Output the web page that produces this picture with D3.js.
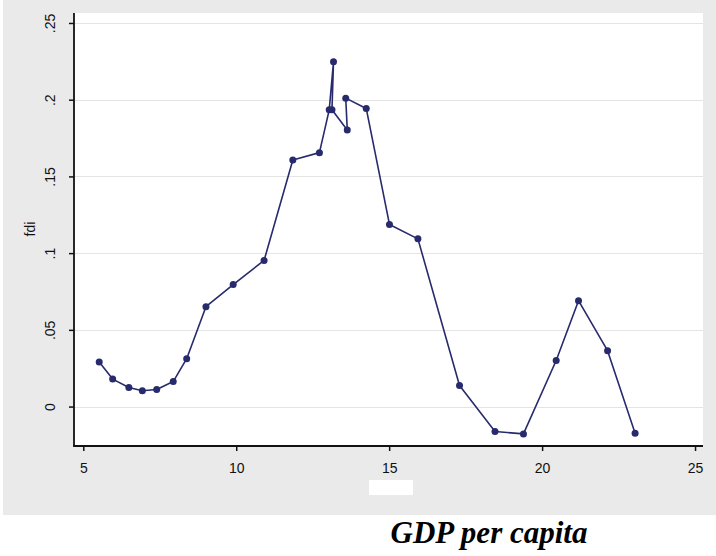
<!DOCTYPE html>
<html>
<head>
<meta charset="utf-8">
<script src="https://cdn.jsdelivr.net/npm/d3@7"></script>
<style>
  html, body { margin: 0; padding: 0; background: #ffffff; }
  svg { display: block; }
</style>
</head>
<body>
<svg id="chart" width="716" height="556"></svg>
<script>
// GDP per capita (x) against fdi (y), in the order the series is connected
const gdp = [5.52, 5.96, 6.49, 6.93, 7.40, 7.94, 8.38, 9.01, 9.90, 10.91,
             11.85, 12.72, 13.04, 13.18, 13.13, 13.63, 13.58, 14.25, 15.01, 15.94,
             17.30, 18.46, 19.39, 20.46, 21.19, 22.14, 23.04];
const fdi = [0.0290, 0.0179, 0.0124, 0.0103, 0.0111, 0.0163, 0.0312, 0.0651, 0.0795, 0.0952,
             0.1607, 0.1655, 0.1934, 0.2247, 0.1934, 0.1803, 0.2010, 0.1943, 0.1187, 0.1093,
             0.0137, -0.0163, -0.0178, 0.0300, 0.0690, 0.0364, -0.0174];

const xTicks = [5, 10, 15, 20, 25];
const yTicks = [0, 0.05, 0.1, 0.15, 0.2, 0.25];
const yTickLabels = ["0", ".05", ".1", ".15", ".2", ".25"];
const yTitle = "fdi";
const xTitle = "GDP per capita";

const svg = d3.select("#chart");
const plot = { left: 74, right: 703, top: 13, bottom: 446 };
const navy = "#272a6c";

const x = d3.scaleLinear().domain([4.696, 25.26]).range([plot.left, plot.right]);
const y = d3.scaleLinear().domain([-0.0257, 0.2565]).range([plot.bottom, plot.top]);

// graph region background
svg.append("rect")
  .attr("x", 3).attr("y", 0).attr("width", 713).attr("height", 515)
  .attr("fill", "#eaeaea");

// plot region
svg.append("rect")
  .attr("x", plot.left).attr("y", plot.top)
  .attr("width", plot.right - plot.left).attr("height", plot.bottom - plot.top)
  .attr("fill", "#ffffff");

// horizontal grid lines
svg.append("g")
  .selectAll("line")
  .data(yTicks)
  .join("line")
  .attr("x1", plot.left).attr("x2", plot.right)
  .attr("y1", d => Math.round(y(d)) + 0.5).attr("y2", d => Math.round(y(d)) + 0.5)
  .attr("stroke", "#e4e4e4").attr("stroke-width", 1.2);

// y axis
const yAxis = d3.axisLeft(y)
  .tickValues(yTicks)
  .tickSize(5)
  .tickFormat((d, i) => yTickLabels[i]);
const gy = svg.append("g")
  .attr("transform", `translate(${plot.left},0)`)
  .call(yAxis);
gy.select(".domain").remove();
gy.selectAll(".tick line").attr("stroke", "#111").attr("stroke-width", 1.5);
gy.selectAll(".tick text")
  .attr("x", null).attr("dy", null)
  .attr("transform", "translate(-24,0) rotate(-90)")
  .attr("text-anchor", "middle")
  .attr("dominant-baseline", "central")
  .attr("font-family", "Liberation Sans, Arial, sans-serif")
  .attr("font-size", 14)
  .attr("fill", "#111");

// x axis
const xAxis = d3.axisBottom(x)
  .tickValues(xTicks)
  .tickSize(5)
  .tickFormat(d3.format("d"));
const gx = svg.append("g")
  .attr("transform", `translate(0,${plot.bottom})`)
  .call(xAxis);
gx.select(".domain").remove();
gx.selectAll(".tick line").attr("stroke", "#111").attr("stroke-width", 1.5);
gx.selectAll(".tick text")
  .attr("y", 17).attr("dy", "0.71em")
  .attr("font-family", "Liberation Sans, Arial, sans-serif")
  .attr("font-size", 14)
  .attr("fill", "#111");

// axis lines
svg.append("line")
  .attr("x1", plot.left).attr("x2", plot.left)
  .attr("y1", plot.top).attr("y2", plot.bottom + 0.75)
  .attr("stroke", "#111").attr("stroke-width", 1.8);
svg.append("line")
  .attr("x1", plot.left - 0.75).attr("x2", plot.right)
  .attr("y1", plot.bottom).attr("y2", plot.bottom)
  .attr("stroke", "#111").attr("stroke-width", 1.8);

// y axis title
svg.append("text")
  .attr("transform", "translate(30,229) rotate(-90)")
  .attr("text-anchor", "middle")
  .attr("dominant-baseline", "central")
  .attr("font-family", "Liberation Sans, Arial, sans-serif")
  .attr("font-size", 14)
  .attr("fill", "#111")
  .text(yTitle);

// blank patch under the x axis labels
svg.append("rect")
  .attr("x", 369).attr("y", 480).attr("width", 44).attr("height", 15)
  .attr("fill", "#ffffff");

// series: connected line with markers
const pts = gdp.map((g, i) => [g, fdi[i]]);
svg.append("path")
  .datum(pts)
  .attr("fill", "none")
  .attr("stroke", navy)
  .attr("stroke-width", 1.6)
  .attr("stroke-linejoin", "round")
  .attr("d", d3.line().x(d => x(d[0])).y(d => y(d[1])));
svg.append("g")
  .selectAll("circle")
  .data(pts)
  .join("circle")
  .attr("cx", d => x(d[0]))
  .attr("cy", d => y(d[1]))
  .attr("r", 3.5)
  .attr("fill", navy);

// x axis title below the graph
svg.append("text")
  .attr("x", 489).attr("y", 543)
  .attr("text-anchor", "middle")
  .attr("font-family", "Liberation Serif, Times New Roman, serif")
  .attr("font-weight", "bold")
  .attr("font-style", "italic")
  .attr("font-size", 31)
  .attr("fill", "#000")
  .text(xTitle);
</script>
</body>
</html>
